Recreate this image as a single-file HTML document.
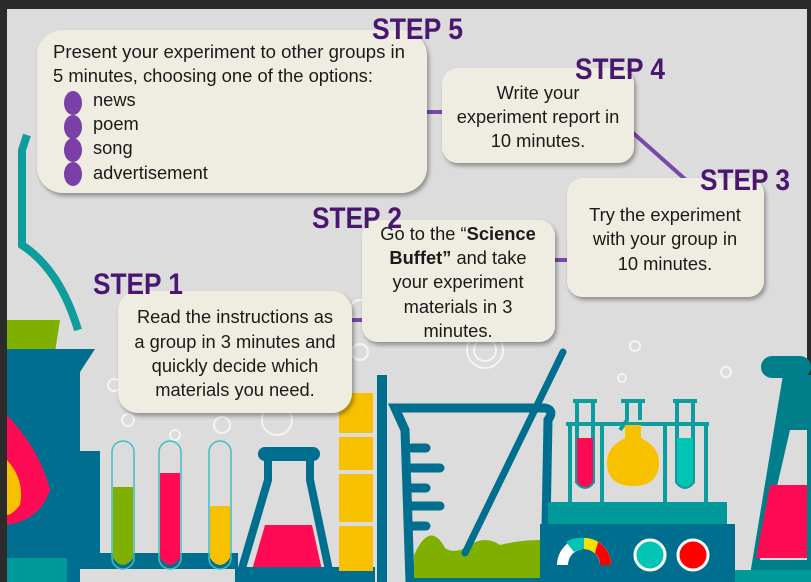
<!DOCTYPE html>
<html><head><meta charset="utf-8"><style>
html,body{margin:0;padding:0;width:811px;height:582px;overflow:hidden;background:#dcdcdc}
svg{display:block}
.t{font-family:"Liberation Sans",sans-serif;font-size:18.3px;fill:#1a1a1a}
.s{font-family:"Liberation Sans",sans-serif;font-weight:bold;font-size:30px;fill:#4a1670}
</style></head><body>
<svg width="811" height="582" viewBox="0 0 811 582" xmlns="http://www.w3.org/2000/svg">
<defs><filter id="sh" x="-10%" y="-10%" width="130%" height="130%"><feDropShadow dx="2" dy="3" stdDeviation="2" flood-color="#000" flood-opacity="0.35"/></filter></defs>
<rect width="811" height="582" fill="#dcdcdc"/>
<rect width="811" height="9" fill="#2b2b2b"/>
<rect width="7" height="582" fill="#2b2b2b"/>
<rect x="807" width="4" height="582" fill="#2b2b2b"/>
<g fill="none" stroke="#f4f4f4" stroke-width="2">
<circle cx="360" cy="310" r="10"/><circle cx="485" cy="350" r="18"/><circle cx="485" cy="350" r="11"/><circle cx="622" cy="378" r="4"/><circle cx="635" cy="346" r="5"/><circle cx="726" cy="372" r="5"/><circle cx="114" cy="385" r="6"/><circle cx="128" cy="420" r="6"/><circle cx="222" cy="425" r="8"/><circle cx="277" cy="420" r="15"/><circle cx="175" cy="435" r="5"/><circle cx="360" cy="352" r="8"/>
</g>
<path d="M27 135 L22 150 L22 245 Q60 270 78 330" fill="none" stroke="#0e9c9c" stroke-width="8"/>
<path d="M7 320 L60 320 L55 352 L7 352Z" fill="#7fb000"/>
<path d="M7 349 L95 349 L80 372 L80 582 L7 582Z" fill="#006f8f"/>
<path d="M7 415 Q40 450 50 490 Q40 520 7 525Z" fill="#ff0a54"/>
<path d="M7 460 Q25 480 20 505 Q12 515 7 515Z" fill="#f7c100"/>
<rect x="7" y="558" width="60" height="24" fill="#009999"/>
<rect x="80" y="451" width="20" height="116" fill="#006f8f"/>
<rect x="80" y="553" width="158" height="16" fill="#006f8f"/>
<g stroke="#3fbfbf" stroke-width="1.5" fill="none">
<rect x="112" y="441" width="22" height="128" rx="11"/><rect x="159" y="441" width="22" height="128" rx="11"/><rect x="209" y="441" width="22" height="128" rx="11"/>
</g>
<path d="M113 487 H133 V558 Q123 572 113 558Z" fill="#7fb000"/>
<path d="M160 473 H180 V558 Q170 572 160 558Z" fill="#ff0a54"/>
<path d="M210 506 H230 V558 Q220 572 210 558Z" fill="#f7c100"/>
<path d="M268 455 L268 480 L240 575 L330 575 L310 480 L310 455" fill="none" stroke="#006f8f" stroke-width="8"/>
<rect x="258" y="447" width="62" height="14" rx="7" fill="#006f8f"/>
<path d="M265 525 L312 525 L322 570 L252 570Z" fill="#ff0a54"/>
<rect x="235" y="567" width="140" height="15" fill="#006f8f"/>
<g fill="#f7c100"><rect x="339" y="393" width="34" height="40"/><rect x="339" y="437" width="34" height="33"/><rect x="339" y="474" width="34" height="48"/><rect x="339" y="526" width="34" height="45"/></g>
<path d="M382 375 L382 582" stroke="#006f8f" stroke-width="10"/>
<path d="M395 408 L545 408 Q555 410 548 420 L545 582 L410 582 L405 430 Z" fill="none" stroke="#006f8f" stroke-width="9"/>
<g stroke="#006f8f" stroke-width="9" stroke-linecap="round"><line x1="412" y1="448" x2="426" y2="448"/><line x1="412" y1="468" x2="440" y2="468"/><line x1="412" y1="488" x2="426" y2="488"/><line x1="412" y1="506" x2="440" y2="506"/><line x1="412" y1="526" x2="426" y2="526"/></g>
<path d="M414 555 Q430 520 445 548 Q455 555 470 545 Q485 535 500 545 Q520 540 540 540 L540 578 L414 578Z" fill="#7fb000"/>
<line x1="563" y1="352" x2="465" y2="553" stroke="#006f8f" stroke-width="7" stroke-linecap="round"/>
<g fill="none" stroke="#0e9c9c" stroke-width="4">
<line x1="566" y1="424" x2="709" y2="424"/><line x1="570" y1="424" x2="570" y2="505"/><line x1="602" y1="424" x2="602" y2="505"/><line x1="665" y1="424" x2="665" y2="505"/><line x1="706" y1="424" x2="706" y2="505"/>
<path d="M577 400 V482 Q585 492 593 482 V400"/><path d="M627 400 V420 L620 430"/><path d="M640 400 V420"/><path d="M677 400 V482 Q685 492 693 482 V400"/>
<line x1="573" y1="401" x2="597" y2="401"/><line x1="621" y1="401" x2="645" y2="401"/><line x1="673" y1="401" x2="697" y2="401"/>
</g>
<path d="M577 438 H593 V482 Q585 492 577 482Z" fill="#ff0a54"/>
<path d="M677 438 H693 V482 Q685 492 677 482Z" fill="#00c4b4"/>
<path d="M625 425 L641 425 L641 438 Q659 447 659 462 Q659 486 633 486 Q607 486 607 462 Q607 447 625 438Z" fill="#f7c100"/>
<rect x="548" y="502" width="179" height="26" fill="#009999"/>
<rect x="540" y="524" width="195" height="58" fill="#006f8f"/>
<path d="M557 565 A27 27 0 0 1 611 565 L600 565 A16 16 0 0 0 568 565Z" fill="#fff"/>
<path d="M584 538 A27 27 0 0 1 611 565 L600 565 A16 16 0 0 0 584 549Z" fill="#f7e000"/>
<path d="M598 542 A27 27 0 0 1 611 565 L600 565 A16 16 0 0 0 595 553Z" fill="#f00"/>
<path d="M566 542 A27 27 0 0 1 584 538 L584 549 A16 16 0 0 0 574 552Z" fill="#00c4b4"/>
<circle cx="650" cy="555" r="15" fill="#00c4b4" stroke="#fff" stroke-width="3"/>
<circle cx="693" cy="555" r="15" fill="#f00" stroke="#fff" stroke-width="3"/>
<rect x="761" y="356" width="50" height="22" rx="11" fill="#007f8a"/>
<path d="M783 375 L778 405 L750 575 L811 575 L811 375Z" fill="#007f8a"/>
<path d="M790 430 L760 560 L807 560 L807 430Z" fill="#dcdcdc"/>
<path d="M770 485 L807 485 L807 558 L756 558Z" fill="#ff0a54"/>
<rect x="735" y="570" width="76" height="12" fill="#009999"/>
<g stroke="#7a48aa" stroke-width="4"><line x1="425" y1="112" x2="445" y2="112"/><line x1="632" y1="132" x2="686" y2="180"/><line x1="553" y1="260" x2="569" y2="260"/><line x1="350" y1="320" x2="364" y2="320"/></g>
<g fill="#efede2" filter="url(#sh)">
<rect x="37" y="30" width="390" height="163" rx="26"/>
<rect x="442" y="68" width="192" height="95" rx="16"/>
<rect x="567" y="178" width="197" height="119" rx="16"/>
<rect x="362" y="220" width="193" height="122" rx="16"/>
<rect x="118" y="291" width="234" height="122" rx="20"/>
</g>
<g fill="#7b3fa8"><ellipse cx="73" cy="103" rx="9" ry="12"/><ellipse cx="73" cy="127" rx="9" ry="12"/><ellipse cx="73" cy="150" rx="9" ry="12"/><ellipse cx="73" cy="174" rx="9" ry="12"/></g>
<g class="t">
<text x="53" y="58" textLength="352" lengthAdjust="spacingAndGlyphs">Present your experiment to other groups in</text>
<text x="53" y="82" textLength="320" lengthAdjust="spacingAndGlyphs">5 minutes, choosing one of the options:</text>
<text x="93" y="106">news</text><text x="93" y="130">poem</text><text x="93" y="154">song</text><text x="93" y="179">advertisement</text>
<g text-anchor="middle">
<text x="538" y="99">Write your</text><text x="538" y="123">experiment report in</text><text x="538" y="147">10 minutes.</text>
<text x="665" y="221">Try the experiment</text><text x="665" y="245">with your group in</text><text x="665" y="270">10 minutes.</text>
<text x="458" y="240">Go to the “<tspan font-weight="bold">Science</tspan></text><text x="458" y="264"><tspan font-weight="bold">Buffet”</tspan> and take</text><text x="458" y="288">your experiment</text><text x="458" y="313">materials in 3</text><text x="458" y="337">minutes.</text>
<text x="235" y="323">Read the instructions as</text><text x="235" y="348">a group in 3 minutes and</text><text x="235" y="372">quickly decide which</text><text x="235" y="396">materials you need.</text>
</g></g>
<g class="s">
<text x="372" y="39" textLength="91" lengthAdjust="spacingAndGlyphs">STEP 5</text>
<text x="575" y="79" textLength="90" lengthAdjust="spacingAndGlyphs">STEP 4</text>
<text x="700" y="190" textLength="90" lengthAdjust="spacingAndGlyphs">STEP 3</text>
<text x="312" y="228" textLength="90" lengthAdjust="spacingAndGlyphs">STEP 2</text>
<text x="93" y="294" textLength="90" lengthAdjust="spacingAndGlyphs">STEP 1</text>
</g>
</svg>
</body></html>
